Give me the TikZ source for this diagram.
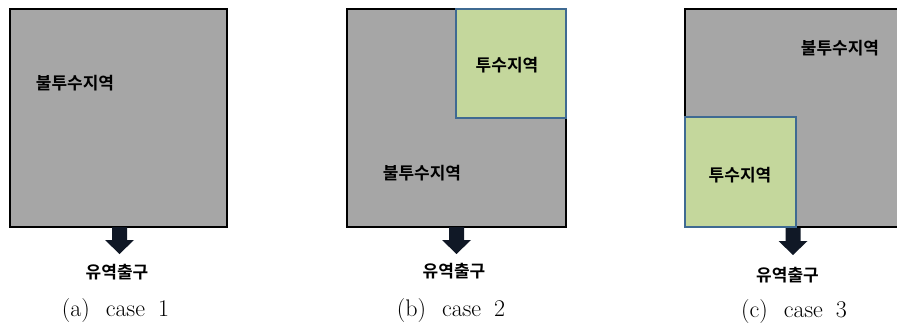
\documentclass[tikz,border=0pt]{standalone}
\usepackage{fontspec}
\newfontfamily\kr{Noto Sans CJK KR}[BoldFont={* Bold}]
\usetikzlibrary{arrows.meta}
\definecolor{imperv}{HTML}{A6A6A6}
\definecolor{perv}{HTML}{C4D79C}
\definecolor{pervline}{HTML}{3F6A92}
\definecolor{arrowc}{HTML}{101826}
\tikzset{
  gbox/.style={draw=black, line width=2pt, fill=imperv},
  pbox/.style={draw=pervline, line width=1.8pt, fill=perv},
  krlab/.style={font=\kr\bfseries\fontsize{17}{19}\selectfont, inner sep=0pt, text=black},
  caplab/.style={font=\fontsize{24}{26}\selectfont, inner sep=0pt},
  blockarrow/.style={draw=none, fill=arrowc}
}
\newcommand{\capt}[2]{(#1)\hspace{16pt}case\hspace{13pt}#2}
\begin{document}
\begin{tikzpicture}[x=1pt,y=-1pt]
\useasboundingbox (0,0) rectangle (897,327);
\clip (0,0) rectangle (897,327);
% ---- panel a
\draw[gbox] (10,9) rectangle (227,227);
\node[krlab] (a1) at (75,83) {불투수지역};
\fill[blockarrow] (112,227) -- (127,227) -- (127,240) -- (134,240) -- (119.5,254) -- (105,240) -- (112,240) -- cycle;
\node[krlab] (aout) at (117,272) {유역출구};
\node[caplab] (acap) at (115.5,311) {\capt{a}{1}};
% ---- panel b
\draw[gbox] (347,9) rectangle (566,227);
\draw[pbox] (456,9) rectangle (566,118);
\node[krlab] (b1) at (507,65) {투수지역};
\node[krlab] (b2) at (422,173) {불투수지역};
\fill[blockarrow] (449,227) -- (464,227) -- (464,240) -- (471,240) -- (456.5,254) -- (442,240) -- (449,240) -- cycle;
\node[krlab] (bout) at (454,271) {유역출구};
\node[caplab] (bcap) at (451,311) {\capt{b}{2}};
% ---- panel c
\draw[gbox] (685,9) rectangle (905,227);
\draw[pbox] (685,117) rectangle (796,227);
\node[krlab] (c1) at (840,48) {불투수지역};
\node[krlab] (c2) at (740,175) {투수지역};
\fill[blockarrow] (785.5,228) -- (800.5,228) -- (800.5,241) -- (807.5,241) -- (793,255) -- (778.5,241) -- (785.5,241) -- cycle;
\node[krlab] (cout) at (787.5,275) {유역출구};
\node[caplab] (ccap) at (794,312) {\capt{c}{3}};
\end{tikzpicture}
\end{document}
